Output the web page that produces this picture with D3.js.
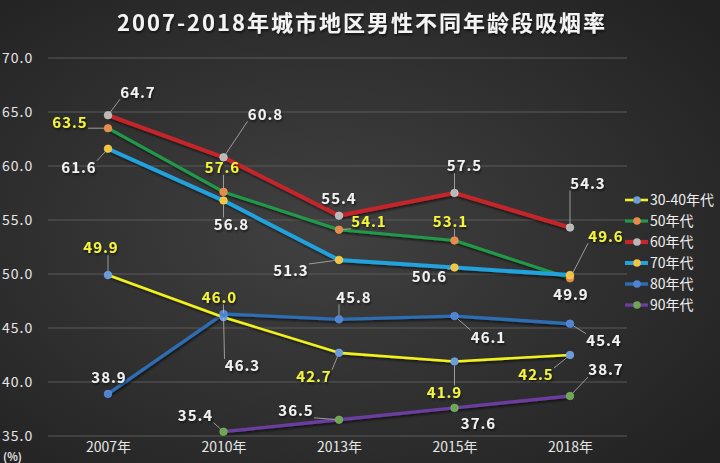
<!DOCTYPE html>
<html>
<head>
<meta charset="utf-8">
<script src="https://cdn.jsdelivr.net/npm/d3@7"></script>
<style>
  html, body { margin: 0; padding: 0; background: #2b2b2b; }
  svg { display: block; }
</style>
</head>
<body>
<div id="chart"></div>
<script>
// Data
const years = ['2007年', '2010年', '2013年', '2015年', '2018年'];
const seriesNames = ['30-40年代', '50年代', '60年代', '70年代', '80年代', '90年代'];
const values3040 = [49.9, 46.0, 42.7, 41.9, 42.5];
const values50 = [63.5, 57.6, 54.1, 53.1, 49.6];
const values60 = [64.7, 60.8, 55.4, 57.5, 54.3];
const values70 = [61.6, 56.8, 51.3, 50.6, 49.9];
const values80 = [38.9, 46.3, 45.8, 46.1, 45.4];
const values90 = [null, 35.4, 36.5, 37.6, 38.7];
const yTicks = [35, 40, 45, 50, 55, 60, 65, 70];
const titleText = '2007-2018年城市地区男性不同年龄段吸烟率';

// Styling per series (line colour, marker colour, label colour, width)
const styles = [
    { line: '#f1f11e', marker: '#6b9bd8', label: '#f4f43a', width: 2.6 },
    { line: '#22984a', marker: '#e88a4c', label: '#f4f43a', width: 3.2 },
    { line: '#c3262b', marker: '#b9b9b9', label: '#f2f2f2', width: 4.2 },
    { line: '#22a2dc', marker: '#f3c443', label: '#f2f2f2', width: 4 },
    { line: '#2d6db2', marker: '#5184d0', label: '#f2f2f2', width: 3.4 },
    { line: '#6a3d9e', marker: '#6ea656', label: '#f2f2f2', width: 3.4 }
];

// Label placement: [dx, dy, leader line] relative to the point
const labelOffsets = [
    [[-7, -27, true], [-4, -20, true], [-25, 24, true], [-10, 31, true], [-34, 20, true]],
    [[-38, -6, true], [-1, -24, true], [30, -8, true], [-4, -19, true], [36, -42, true]],
    [[30, -23, true], [42, -43, true], [0, -17, false], [10, -27, true], [18, -44, true]],
    [[-29, 19, true], [8, 24, true], [-48, 11, true], [-25, 9, true], [1, 20, false]],
    [[1, -16, false], [19, 52, true], [15, -22, true], [34, 21, true], [34, 17, true]],
    [[0, 0, false], [-28, -16, true], [-43, -9, true], [24, 16, false], [36, -26, true]]
];

const allValues = [values3040, values50, values60, values70, values80, values90];

const width = 720;
const height = 463;

const svg = d3.select('#chart')
    .append('svg')
    .attr('width', width)
    .attr('height', height);

// Background gradient
const defs = svg.append('defs');
const grad = defs.append('radialGradient')
    .attr('id', 'bg')
    .attr('cx', '45%').attr('cy', '50%').attr('r', '70%');
grad.append('stop').attr('offset', '0%').attr('stop-color', '#414141');
grad.append('stop').attr('offset', '100%').attr('stop-color', '#222222');

const shadow = defs.append('filter').attr('id', 'shadow')
    .attr('x', '-10%').attr('y', '-10%').attr('width', '120%').attr('height', '130%');
shadow.append('feDropShadow')
    .attr('dx', 1).attr('dy', 2).attr('stdDeviation', 1.2)
    .attr('flood-color', '#000').attr('flood-opacity', 0.55);

svg.append('rect')
    .attr('width', width)
    .attr('height', height)
    .attr('fill', 'url(#bg)');

// Scales
const x = d3.scalePoint()
    .domain(years)
    .range([108, 570]);

const y = d3.scaleLinear()
    .domain([35, 70])
    .range([436, 58]);

// Gridlines
svg.append('g')
    .selectAll('line')
    .data(yTicks)
    .enter()
    .append('line')
    .attr('x1', 48)
    .attr('x2', 627)
    .attr('y1', d => y(d))
    .attr('y2', d => y(d))
    .attr('stroke', '#5a5a5a')
    .attr('stroke-width', 1);

// Y axis labels
const yAxis = d3.axisLeft(y)
    .tickValues(yTicks)
    .tickFormat(d3.format('.1f'))
    .tickSize(0)
    .tickPadding(0);

const yAxisG = svg.append('g')
    .attr('transform', 'translate(2,0)')
    .call(yAxis);
yAxisG.select('.domain').remove();
yAxisG.selectAll('text')
    .attr('text-anchor', 'start')
    .attr('fill', '#e6e6e6')
    .style('font-family', '"Noto Sans CJK SC", "Noto Sans", sans-serif')
    .style('font-size', '14px')
    .style('letter-spacing', '1px');

// X axis labels
const xAxis = d3.axisBottom(x).tickSize(0).tickPadding(0);
const xAxisG = svg.append('g')
    .attr('transform', 'translate(0,442)')
    .call(xAxis);
xAxisG.select('.domain').remove();
xAxisG.selectAll('text')
    .attr('fill', '#e6e6e6')
    .style('font-family', '"Noto Sans CJK SC", "Noto Sans", sans-serif')
    .style('font-size', '14px');

svg.append('text')
    .attr('x', 3)
    .attr('y', 461)
    .attr('fill', '#e0e0e0')
    .style('font-family', '"Noto Sans CJK SC", sans-serif')
    .style('font-size', '11px')
    .style('font-weight', 'bold')
    .text('(%)');

// Title
svg.append('text')
    .attr('x', 362)
    .attr('y', 31)
    .attr('text-anchor', 'middle')
    .attr('fill', '#f4f4f4')
    .attr('filter', 'url(#shadow)')
    .style('font-family', '"Noto Sans CJK SC", sans-serif')
    .style('font-size', '22px')
    .style('font-weight', 'bold')
    .style('letter-spacing', '2px')
    .text(titleText);

const line = d3.line()
    .defined(d => d.value !== null)
    .x(d => x(d.year))
    .y(d => y(d.value));

const seriesData = allValues.map((vals, i) => ({
    name: seriesNames[i],
    style: styles[i],
    points: vals.map((v, j) => ({ year: years[j], value: v, offset: labelOffsets[i][j] }))
}));

// Draw lines (bottom to top in the same order as the reference)
const drawOrder = [5, 4, 0, 1, 3, 2];
const linesG = svg.append('g');
drawOrder.forEach(i => {
    const s = seriesData[i];
    linesG.append('path')
        .datum(s.points)
        .attr('d', line)
        .attr('fill', 'none')
        .attr('stroke', s.style.line)
        .attr('stroke-width', s.style.width)
        .attr('stroke-linejoin', 'round')
        .attr('filter', 'url(#shadow)');
});

// Markers
seriesData.forEach(s => {
    svg.append('g')
        .selectAll('circle')
        .data(s.points.filter(p => p.value !== null))
        .enter()
        .append('circle')
        .attr('cx', d => x(d.year))
        .attr('cy', d => y(d.value))
        .attr('r', 3.8)
        .attr('fill', s.style.marker)
        .attr('stroke', d3.color(s.style.marker).brighter(0.4))
        .attr('stroke-width', 0.6);
});

// Data labels with leader lines
const labelW = 32;
const labelH = 14;
const labelsG = svg.append('g');
seriesData.forEach(s => {
    s.points.filter(p => p.value !== null).forEach(p => {
        const px = x(p.year);
        const py = y(p.value);
        const [dx, dy, leader] = p.offset;
        const cx = px + dx;
        const cy = py + dy;

        if (leader) {
            // nearest point on label box
            const ex = Math.max(cx - labelW / 2 - 2, Math.min(cx + labelW / 2 + 2, px));
            const ey = Math.max(cy - labelH / 2, Math.min(cy + labelH / 2, py));
            const ang = Math.atan2(ey - py, ex - px);
            labelsG.append('line')
                .attr('x1', px + Math.cos(ang) * 4)
                .attr('y1', py + Math.sin(ang) * 4)
                .attr('x2', ex)
                .attr('y2', ey)
                .attr('stroke', '#b5b5b5')
                .attr('stroke-width', 0.8);
        }

        labelsG.append('text')
            .attr('x', cx)
            .attr('y', cy)
            .attr('dy', '0.36em')
            .attr('text-anchor', 'middle')
            .attr('fill', s.style.label)
            .attr('filter', 'url(#shadow)')
            .style('font-family', '"Noto Sans CJK SC", "Noto Sans", sans-serif')
            .style('font-size', '15px')
            .style('font-weight', 'bold')
            .style('letter-spacing', '1px')
            .text(d3.format('.1f')(p.value));
    });
});

// Legend
const legend = svg.append('g')
    .selectAll('g')
    .data(seriesData)
    .enter()
    .append('g')
    .attr('transform', (d, i) => `translate(625,${200 + i * 21})`);

legend.append('line')
    .attr('x1', 0)
    .attr('x2', 23)
    .attr('stroke', d => d.style.line)
    .attr('stroke-width', d => d.style.width);

legend.append('circle')
    .attr('cx', 12)
    .attr('r', 3.8)
    .attr('fill', d => d.style.marker);

legend.append('text')
    .attr('x', 25)
    .attr('dy', '0.36em')
    .attr('fill', '#efefef')
    .style('font-family', '"Noto Sans CJK SC", sans-serif')
    .style('font-size', '14px')
    .text(d => d.name);
</script>
</body>
</html>
